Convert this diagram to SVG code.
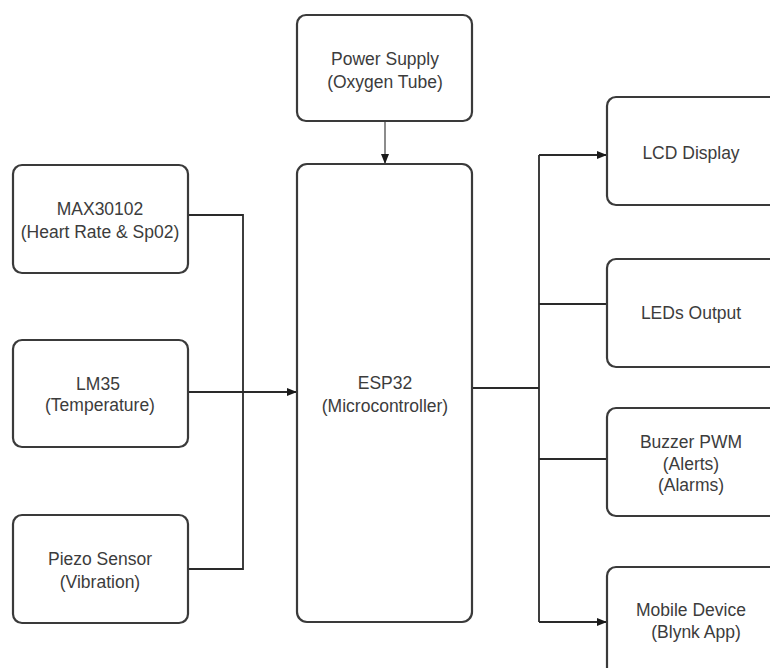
<svg xmlns="http://www.w3.org/2000/svg" width="770" height="668" viewBox="0 0 770 668">
<style>
.box{fill:#fff;stroke:#3a3a3a;stroke-width:2.2}
.t{font-family:"Liberation Sans",Arial,sans-serif;font-size:17.5px;fill:#3c3c3c;text-anchor:middle}
.c{fill:none;stroke:#2a2a2a;stroke-width:1.8}
</style>
<defs>
<marker id="arr" markerWidth="10" markerHeight="8" refX="9" refY="4" orient="auto" markerUnits="userSpaceOnUse">
<path d="M0,0 L10,4 L0,8 Z" fill="#1a1a1a"/>
</marker>
</defs>
<rect width="770" height="668" fill="#fff"/>
<g id="connectors">
<path class="c" d="M385,121 V163" marker-end="url(#arr)" style="stroke:#666;stroke-width:1.5"/>
<path class="c" d="M188,215 H243 V569 H188"/>
<path class="c" d="M188,392 H296" marker-end="url(#arr)"/>
<path class="c" d="M472,388 H539"/>
<path class="c" d="M539,155 V622"/>
<path class="c" d="M539,155 H606" marker-end="url(#arr)"/>
<path class="c" d="M539,304 H607"/>
<path class="c" d="M539,459 H607"/>
<path class="c" d="M539,622 H606" marker-end="url(#arr)"/>
</g>
<g id="power">
<rect class="box" x="297" y="15" width="175" height="106" rx="9"/>
<text class="t" x="385" y="65">Power Supply</text>
<text class="t" x="385" y="88">(Oxygen Tube)</text>
</g>
<g id="esp32">
<rect class="box" x="297" y="164" width="175" height="458" rx="10"/>
<text class="t" x="385" y="389">ESP32</text>
<text class="t" x="385" y="412">(Microcontroller)</text>
</g>
<g id="max30102">
<rect class="box" x="13" y="165" width="175" height="108" rx="9"/>
<text class="t" x="100" y="215">MAX30102</text>
<text class="t" x="100" y="238">(Heart Rate &amp; Sp02)</text>
</g>
<g id="lm35">
<rect class="box" x="13" y="340" width="175" height="107" rx="9"/>
<text class="t" x="98" y="390">LM35</text>
<text class="t" x="100" y="411">(Temperature)</text>
</g>
<g id="piezo">
<rect class="box" x="13" y="515" width="175" height="108" rx="9"/>
<text class="t" x="100" y="565">Piezo Sensor</text>
<text class="t" x="100" y="588">(Vibration)</text>
</g>
<g id="lcd">
<rect class="box" x="607" y="97" width="185" height="108" rx="9"/>
<text class="t" x="691" y="159">LCD Display</text>
</g>
<g id="leds">
<rect class="box" x="607" y="259" width="185" height="108" rx="9"/>
<text class="t" x="691" y="319">LEDs Output</text>
</g>
<g id="buzzer">
<rect class="box" x="607" y="408" width="185" height="108" rx="9"/>
<text class="t" x="691" y="448">Buzzer PWM</text>
<text class="t" x="691" y="470">(Alerts)</text>
<text class="t" x="691" y="491">(Alarms)</text>
</g>
<g id="mobile">
<rect class="box" x="607" y="567" width="185" height="120" rx="9"/>
<text class="t" x="691" y="616">Mobile Device</text>
<text class="t" x="696" y="638">(Blynk App)</text>
</g>
</svg>
